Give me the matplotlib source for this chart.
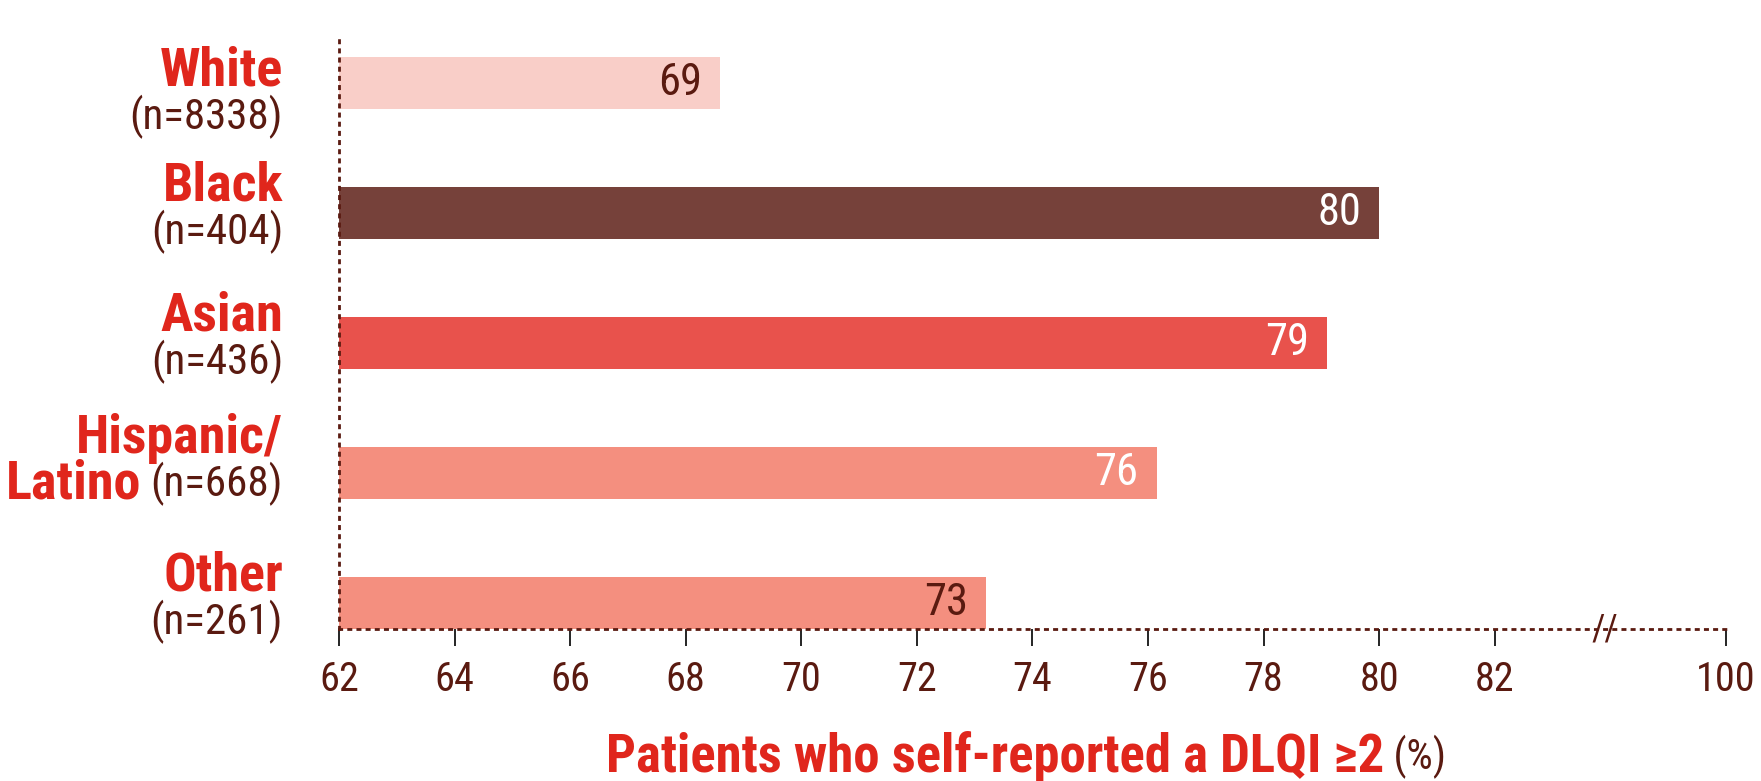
import matplotlib
matplotlib.use("Agg")
import matplotlib.pyplot as plt
from matplotlib import font_manager

# 폰트: 좁은 글꼴이 있으면 사용
names = {f.name for f in font_manager.fontManager.ttflist}
FONT = 'DejaVu Sans'
for cand in ['Roboto Condensed', 'Liberation Sans Narrow', 'Open Sans Condensed', 'Roboto']:
    if cand in names:
        FONT = cand
        break
plt.rcParams['font.family'] = [FONT, 'DejaVu Sans']

# 데이터
groups = ['White', 'Black', 'Asian', 'Hispanic/\nLatino', 'Other']
counts = ['(n=8338)', '(n=404)', '(n=436)', '(n=668)', '(n=261)']
values = [68.6, 80.0, 79.1, 76.15, 73.2]
value_labels = ['69', '80', '79', '76', '73']
tick_vals = [62, 64, 66, 68, 70, 72, 74, 76, 78, 80, 82, 86]
tick_labels = ['62', '64', '66', '68', '70', '72', '74', '76', '78', '80', '82', '100']

bar_colors = ['#f9cec8', '#76413a', '#e8524c', '#f48f7f', '#f48f7f']
text_colors = ['#5a1a10', 'white', 'white', 'white', '#5a1a10']
label_shift = [-15, 0, 0, 0, 0]   # 라벨 세로 보정 (px)
RED = '#e0261c'
BROWN = '#5a1a10'

fig = plt.figure(figsize=(17.61, 7.81), dpi=100)
ax = fig.add_axes([0.1925, 0.1946, 0.7875, 0.758])

ypos = list(range(len(groups)))
ax.barh(ypos, [v - 62 for v in values], left=62, height=0.4, color=bar_colors)
ax.set_xlim(62, 86)
ax.set_ylim(4.2, -0.35)

for y, v, lab, c in zip(ypos, values, value_labels, text_colors):
    ax.annotate(lab, (v, y), xytext=(-18, 0), textcoords='offset pixels',
                ha='right', va='center', fontsize=32, color=c)

# 축 스타일
for s in ['top', 'right']:
    ax.spines[s].set_visible(False)
for s in ['left', 'bottom']:
    ax.spines[s].set_linestyle((0, (0.8, 2.5)))
    ax.spines[s].set_linewidth(2)
    ax.spines[s].set_color(BROWN)
ax.set_yticks([])
ax.set_xticks(tick_vals)
ax.set_xticklabels(tick_labels, fontsize=29, color=BROWN)
ax.tick_params(axis='x', direction='out', length=12, width=1.2, color='black', pad=10)

# 축 끊김 표시
ax.text(83.9, 4.2, '//', ha='center', va='center', fontsize=26, color=BROWN,
        clip_on=False)

# 카테고리 라벨
XL = 283 / 1761
trans = matplotlib.transforms.blended_transform_factory(fig.transFigure, ax.transData)
fig.canvas.draw()
renderer = fig.canvas.get_renderer()
for y, g, n, sh in zip(ypos, groups, counts, label_shift):
    if '\n' in g:
        top, bottom = g.split('\n')
        ax.annotate(top, (XL, y), xycoords=trans, xytext=(0, 34 + sh), textcoords='offset pixels',
                    ha='right', va='center', fontsize=39, fontweight='bold', color=RED)
        t = ax.annotate(n, (XL, y), xycoords=trans, xytext=(0, -11 + sh), textcoords='offset pixels',
                        ha='right', va='center', fontsize=31, color=BROWN)
        bb = t.get_window_extent(renderer)
        ax.annotate(bottom, (bb.x0 - 9, y), xycoords=('figure pixels', 'data'),
                    xytext=(0, -11 + sh), textcoords='offset pixels', ha='right', va='center',
                    fontsize=39, fontweight='bold', color=RED)
    else:
        ax.annotate(g, (XL, y), xycoords=trans, xytext=(0, 27 + sh), textcoords='offset pixels',
                    ha='right', va='center', fontsize=39, fontweight='bold', color=RED)
        ax.annotate(n, (XL, y), xycoords=trans, xytext=(0, -19 + sh), textcoords='offset pixels',
                    ha='right', va='center', fontsize=31, color=BROWN)

# x축 제목 (굵은 부분 + 일반 부분)
t1 = fig.text(0, 24 / 781, 'Patients who self-reported a DLQI \u22652', fontsize=38,
              fontweight='bold', color=RED, ha='left', va='center')
t2 = fig.text(0, 24 / 781, ' (%)', fontsize=30, color=BROWN,
              ha='left', va='center')
w1 = t1.get_window_extent(renderer).width
w2 = t2.get_window_extent(renderer).width
x0 = 1026 - (w1 + w2) / 2
t1.set_x(x0 / 1761)
t2.set_x((x0 + w1) / 1761)

fig.savefig('out.png', dpi=100)
